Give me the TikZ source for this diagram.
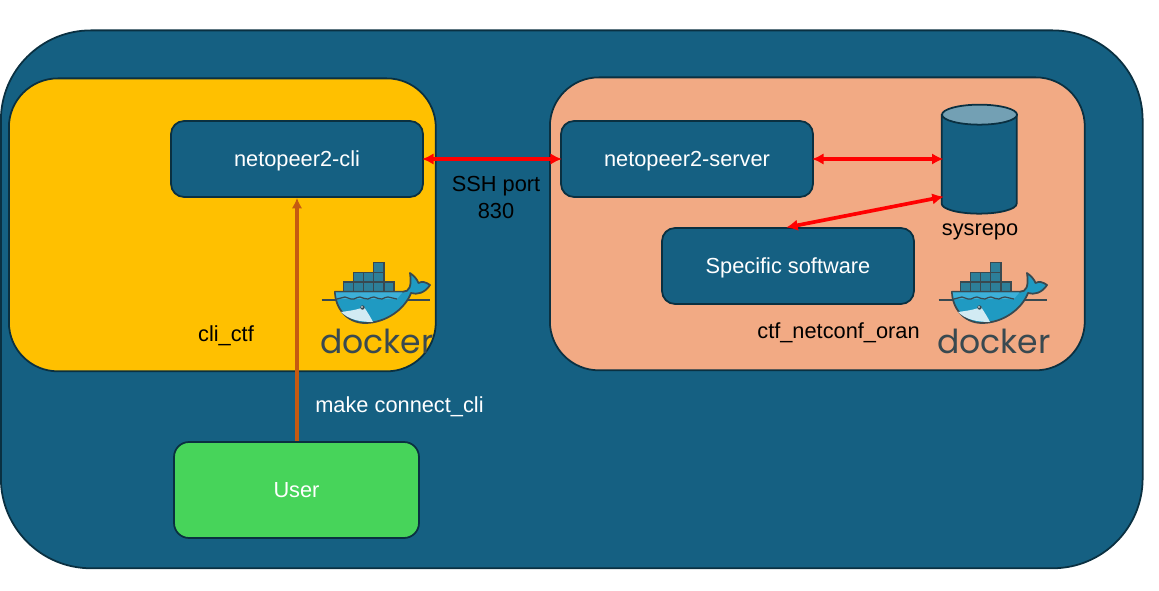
\documentclass[tikz,border=0pt]{standalone}
\usepackage{fontspec}
\setmainfont{Liberation Sans}
\newfontfamily\logofont{Poppins}
\usetikzlibrary{arrows.meta}
\definecolor{myblue}{HTML}{156082}
\definecolor{myedge}{HTML}{0A3041}
\definecolor{myyellow}{HTML}{FFC000}
\definecolor{mysalmon}{HTML}{F2AA84}
\definecolor{mygreen}{HTML}{47D45A}
\definecolor{myorange}{HTML}{C55A11}
\definecolor{mylid}{HTML}{73A0B4}
\definecolor{dockerink}{HTML}{394950}
\definecolor{dockerbox}{HTML}{2D7F99}
\definecolor{dockerhull}{HTML}{1F9AC2}
\definecolor{dockerdeck}{HTML}{3DB0D8}
\tikzset{
  x=0.02cm,y=-0.02cm,
  every node/.style={font=\fontsize{12.4pt}{15.3pt}\selectfont},
  panel/.style={draw=myedge,line width=1pt,rounded corners=0.98cm,inner sep=0,anchor=north west},
  soft/.style={draw=myedge,fill=myblue,line width=1pt,rounded corners=0.26cm,inner sep=0,
    text=white,text height=11.5pt,text depth=3pt,minimum width=5.04cm,minimum height=1.52cm},
  label/.style={inner sep=0,text=black,align=center},
  syncarrow/.style={{Latex[length=6.5pt,width=6.5pt]}-{Latex[length=6.5pt,width=6.5pt]},red,line width=2.1pt,shorten <=-1pt,shorten >=-1pt},
  userarrow/.style={-{Latex[length=6pt,width=6pt]},myorange,line width=2pt},
  dockerlogo/.pic={
    % water line behind the hull
    \draw[dockerink,line width=0.6pt] (0.5,38) -- (109,38);
    % containers
    \foreach \col/\row in {0/2,1/2,2/2,3/2,4/2,1/1,2/1,3/1,3/0}{
      \draw[dockerink,fill=dockerbox,line width=0.7pt] (22.5+10.1*\col,0.5+9.8*\row) rectangle ++(10.1,9.8);
    }
    % whale
    \draw[dockerink,fill=dockerhull,line width=1pt,line join=round]
      (14,29.7) -- (82,29.7) .. controls (88,29.7) and (91,25) .. (89,11)
      .. controls (93,14) and (96,17) .. (97.5,21) .. controls (101,19) and (105,20) .. (109,23)
      .. controls (104,31) and (96,33) .. (90,31) .. controls (84,47) and (65,61) .. (44,61)
      .. controls (26,61) and (14,46) .. (14,29.7) -- cycle;
    \fill[dockerdeck] (14.6,30.3) -- (81.5,30.3) -- (76,37) -- (16,37) -- cycle;
    \draw[dockerink,line width=0.7pt] (16,37) .. controls (19,37) and (21,35) .. (24,35)
      .. controls (27,35) and (29,38) .. (33,37) .. controls (35,36) and (37,35) .. (39,35)
      .. controls (42,35) and (44,38) .. (47,37) .. controls (49,36) and (51,35) .. (53,35)
      .. controls (56,35) and (58,38) .. (61,37) .. controls (63,36) and (65,35) .. (67,35)
      .. controls (70,35) and (73,37) .. (76,37);
    \fill[white!80!dockerhull] (20,50) .. controls (27,49) and (36,48) .. (43,45)
      .. controls (47,51) and (50,56) .. (52,60) .. controls (38,60) and (27,57) .. (20,50) -- cycle;
    \fill[dockerink] (41.5,45.5) circle (2.2);
    \fill[white] (41,45) circle (0.8);
    \node[inner sep=0,anchor=base west,text=dockerink,font=\logofont\fontsize{18.8pt}{18.8pt}\selectfont] (word) at (-1,91) {docker};
  }
}
\begin{document}
\begin{tikzpicture}
\useasboundingbox (0,0) rectangle (1159,591);
\node[panel,fill=myblue,minimum width=22.84cm,minimum height=10.76cm,rounded corners=1.8cm] (host) at (0,29.5) {};
\node[panel,fill=myyellow,minimum width=8.54cm,minimum height=5.86cm] (clibox) at (8,77.5) {};
\node[panel,fill=mysalmon,minimum width=10.7cm,minimum height=5.86cm] (srvbox) at (549,76.5) {};
\node[soft] (cli) at (297,159) {netopeer2-cli};
\node[soft] (server) at (687,159) {netopeer2-server};
\node[soft] (software) at (788,266) {Specific software};
\node[soft,fill=mygreen,minimum width=4.9cm,minimum height=1.92cm,rounded corners=0.3cm] (user) at (296.5,490) {User};
% plain box for the database, its round ends are drawn on top
\node[inner sep=0,minimum width=1.5cm,minimum height=2.18cm] (db) at (979.5,159.5) {};
\draw[myedge,fill=myblue,line width=1pt] (db.north west) ++(0,10) -- ++(0,89)
  arc[start angle=180,end angle=0,x radius=37.5,y radius=10] -- ++(0,-89) -- cycle;
\draw[myedge,fill=mylid,line width=1pt] (db.north) ++(0,10) ellipse[x radius=37.5,y radius=10];
\coordinate (dblow) at (942,197);
\node[label] (dbname) at (980,232) {sysrepo};
\node[label] (port) at (496,197.5) {SSH port\\830};
\node[label] (cliname) at (226,336) {cli\_ctf};
\node[label] (srvname) at (838.5,333) {ctf\_netconf\_oran};
\node[label,text=white] (cmd) at (399.5,407) {make connect\_cli};
\draw[syncarrow] (cli.east) -- (server.west);
\draw[syncarrow] (server.east) -- (server.east -| db.west);
\draw[syncarrow] (software.north) -- (dblow);
\draw[userarrow] (user.north -| cli.south) -- (cli.south);
\pic (logoa) at (321,262) {dockerlogo};
\pic (logob) at (938,262) {dockerlogo};
\end{tikzpicture}
\end{document}
